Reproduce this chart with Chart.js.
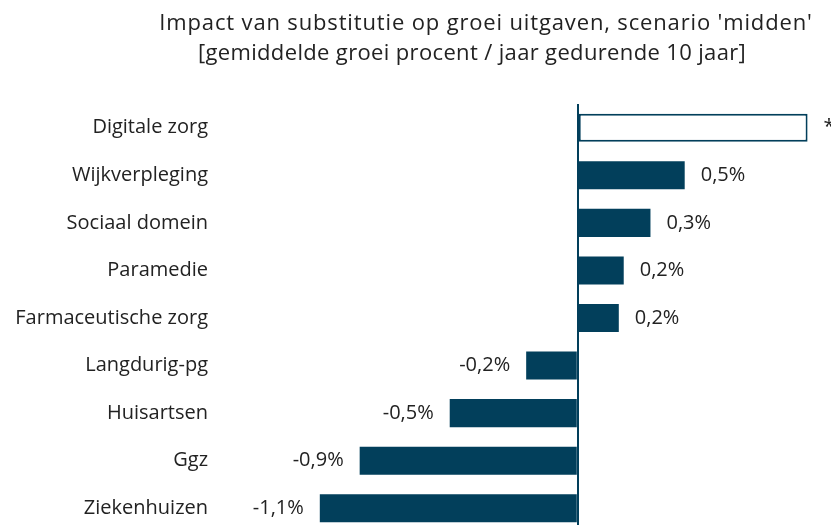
<!DOCTYPE html>
<html>
<head>
<meta charset="utf-8">
<script src="https://cdn.jsdelivr.net/npm/chart.js@4/dist/chart.umd.min.js"></script>
<style>
  html, body { margin: 0; padding: 0; background: #fff; overflow: hidden; }
  #wrap { position: relative; width: 831px; height: 532px; }
  .title div { position: absolute; transform: translateX(-50%); font-family: "Open Sans", sans-serif; font-size: 22px; color: #222; white-space: nowrap; }
  .t1 { top: 6px; left: 486px; letter-spacing: 0.85px; }
  .t2 { top: 36px; left: 472px; letter-spacing: 0.35px; }
  canvas { position: absolute; top: 0; left: 0; }
</style>
</head>
<body>
<div id="wrap">
  <canvas id="chart" width="831" height="532"></canvas>
  <div class="title">
    <div class="t1">Impact van substitutie op groei uitgaven, scenario 'midden'</div>
    <div class="t2">[gemiddelde groei procent / jaar gedurende 10 jaar]</div>
  </div>
</div>
<script>
const categories = ['Digitale zorg', 'Wijkverpleging', 'Sociaal domein', 'Paramedie', 'Farmaceutische zorg', 'Langdurig-pg', 'Huisartsen', 'Ggz', 'Ziekenhuizen'];
const values = [0.98, 0.456, 0.31, 0.196, 0.175, -0.22, -0.546, -0.93, -1.1];
const valueLabels = ['*', '0,5%', '0,3%', '0,2%', '0,2%', '-0,2%', '-0,5%', '-0,9%', '-1,1%'];

const navy = '#023f5b';
const labelFont = '20px "Open Sans", sans-serif';

// value labels next to the bar ends
const barLabels = {
    id: 'barLabels',
    afterDatasetsDraw(chart) {
        const ctx = chart.ctx;
        const meta = chart.getDatasetMeta(0);
        ctx.save();
        ctx.font = labelFont;
        ctx.fillStyle = '#222';
        ctx.textBaseline = 'middle';
        meta.data.forEach((bar, i) => {
            if (values[i] >= 0) {
                ctx.textAlign = 'left';
                ctx.fillText(valueLabels[i], bar.x + 16, bar.y);
            } else {
                ctx.textAlign = 'right';
                ctx.fillText(valueLabels[i], bar.x - 16, bar.y);
            }
        });
        ctx.restore();
    }
};

const noPadding = scale => {
    scale.paddingTop = 0;
    scale.paddingBottom = 0;
    scale.paddingLeft = 0;
    scale.paddingRight = 0;
};

new Chart(document.getElementById('chart'), {
    type: 'bar',
    data: {
        labels: categories,
        datasets: [{
            data: values,
            backgroundColor: values.map((v, i) => i === 0 ? '#ffffff' : navy),
            borderColor: navy,
            borderWidth: values.map((v, i) => i === 0 ? 2 : 0),
            borderSkipped: false,
            barPercentage: 0.59,
            categoryPercentage: 1,
        }],
    },
    options: {
        responsive: false,
        animation: false,
        indexAxis: 'y',
        layout: { padding: { top: 104, right: 7, left: 0, bottom: 0 } },
        plugins: {
            legend: { display: false },
            tooltip: { enabled: false },
        },
        scales: {
            x: {
                min: -1.5,
                max: 1.05,
                afterFit: scale => { scale.height = 0; noPadding(scale); },
                ticks: { display: false, stepSize: 0.5 },
                border: { display: false },
                grid: {
                    drawTicks: false,
                    color: c => c.tick && c.tick.value === 0 ? navy : 'rgba(0,0,0,0)',
                    lineWidth: 2,
                },
            },
            y: {
                afterFit: scale => { scale.width = 226; noPadding(scale); },
                ticks: { padding: 18, color: '#222', font: { family: '"Open Sans", sans-serif', size: 20 } },
                grid: { display: false, drawTicks: false },
                border: { display: false },
            },
        },
    },
    plugins: [barLabels],
});
</script>
</body>
</html>
